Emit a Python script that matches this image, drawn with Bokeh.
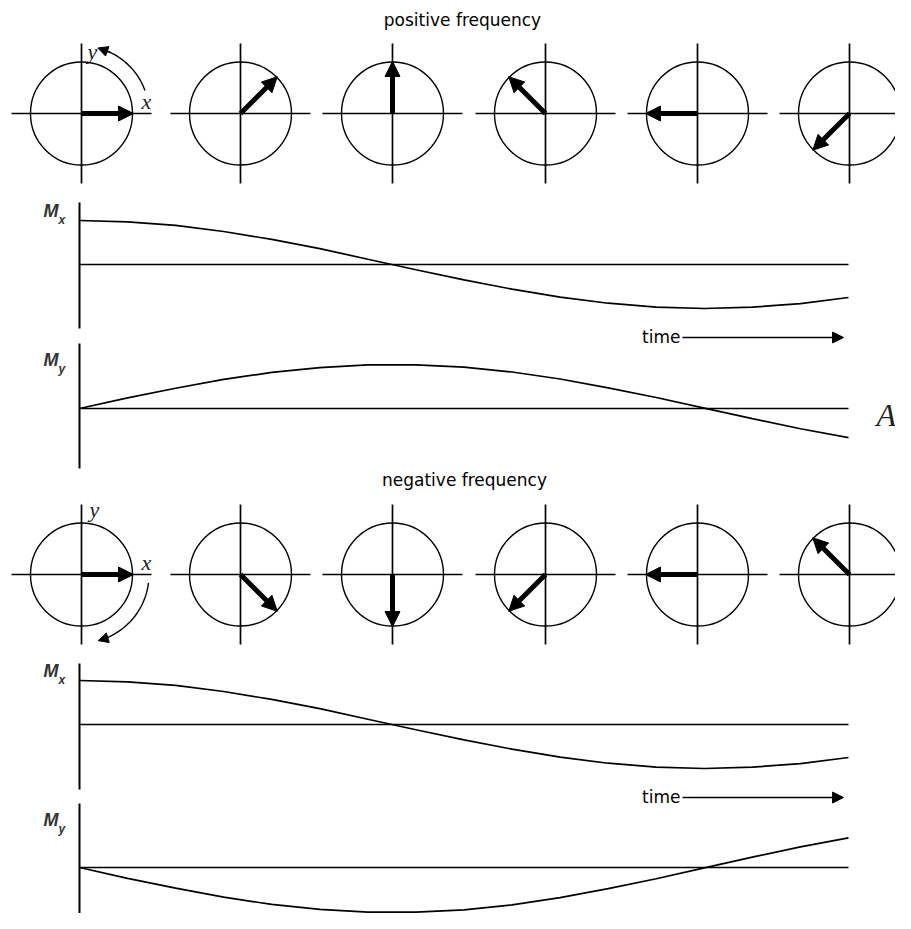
import numpy as np
from bokeh.plotting import figure
from bokeh.models import Range1d, ColumnDataSource, Arrow, NormalHead
from bokeh.core.properties import value
from bokeh.embed import file_html
from bokeh.resources import INLINE

# ---------------- data ----------------
panel_titles = ["positive frequency", "negative frequency"]
pos_angles_deg = [0, 45, 90, 135, 180, 225]
neg_angles_deg = [0, -45, -90, -135, -180, -225]
time_steps = list(range(17))
mx_pos = [1.00, 0.97, 0.89, 0.75, 0.57, 0.36, 0.12, -0.12, -0.35, -0.56,
          -0.74, -0.88, -0.97, -1.00, -0.97, -0.89, -0.75]
my_pos = [0.00, 0.24, 0.46, 0.66, 0.82, 0.93, 0.99, 0.99, 0.94, 0.83,
          0.67, 0.47, 0.25, 0.01, -0.23, -0.46, -0.66]
mx_neg = [1.00, 0.97, 0.89, 0.75, 0.57, 0.36, 0.12, -0.12, -0.35, -0.56,
          -0.74, -0.88, -0.97, -1.00, -0.97, -0.89, -0.75]
my_neg = [0.00, -0.24, -0.46, -0.66, -0.82, -0.93, -0.99, -0.99, -0.94, -0.83,
          -0.67, -0.47, -0.25, -0.01, 0.23, 0.46, 0.66]
axis_symbol = "M"
component_names = ["x", "y"]
time_label = "time"
figure_tag = "A"

# ---------------- layout (pixel coordinates of the picture) ----------------
W, H = 895, 913
LEFT, TOP = 0, 0
RIGHT, BOTTOM = LEFT + W, TOP + H

CIRCLE_CX = [81, 240, 392, 545, 697, 849]
ROW_CY = [113, 574]
TITLE_POS = [(462, 19), (464, 479)]
CIRCLE_R = 51
CROSS_HALF = 70
PHASOR_LEN = 52

AXIS_X = 79
T_END_X = 848
# baseline y, amplitude, axis top, axis bottom, label y
PANELS = {
    "mxp": (264, 44, 202, 328, 210),
    "myp": (408, 44, 343, 468, 359),
    "mxn": (724, 44, 663, 789, 670),
    "myn": (867, 45, 803, 928, 819),
}
TIME_ARROW_Y = [337, 797]

p = figure(width=W, height=H, x_range=Range1d(LEFT, RIGHT), y_range=Range1d(BOTTOM, TOP),
           output_backend="svg", toolbar_location=None,
           x_axis_type=None, y_axis_type=None, min_border=0)
p.outline_line_color = None
p.background_fill_color = "white"
p.border_fill_color = "white"

# time range: t=0 -> AXIS_X, t=16 -> T_END_X
k = (T_END_X - AXIS_X) / (time_steps[-1] - time_steps[0])
ts = time_steps[0] - (AXIS_X - LEFT) / k
p.extra_x_ranges = {"time": Range1d(ts, ts + W / k)}
extra_y = {}
for name, (base, amp, _, _, _) in PANELS.items():
    s = (base - BOTTOM) / amp
    extra_y[name] = Range1d(s, s + H / amp)
p.extra_y_ranges = extra_y

BLACK = "black"

# ---------------- phasor rows ----------------
for row, (cy, angles) in enumerate(zip(ROW_CY, [pos_angles_deg, neg_angles_deg])):
    cxs = CIRCLE_CX
    p.ellipse(x=cxs, y=[cy] * len(cxs), width=2 * CIRCLE_R, height=2 * CIRCLE_R + 1,
              fill_color=None, line_color=BLACK, line_width=1.4)
    p.segment(x0=[c - CROSS_HALF for c in cxs], y0=[cy] * len(cxs),
              x1=[c + CROSS_HALF for c in cxs], y1=[cy] * len(cxs),
              line_color=BLACK, line_width=1.7)
    p.segment(x0=cxs, y0=[cy - CROSS_HALF] * len(cxs),
              x1=cxs, y1=[cy + CROSS_HALF] * len(cxs),
              line_color=BLACK, line_width=1.7)
    a = np.radians(np.array(angles, dtype=float))
    src = ColumnDataSource(dict(
        x0=cxs, y0=[cy] * len(cxs),
        x1=list(np.array(cxs) + PHASOR_LEN * np.cos(a)),
        y1=list(cy - PHASOR_LEN * np.sin(a)),
    ))
    p.add_layout(Arrow(source=src, x_start="x0", y_start="y0", x_end="x1", y_end="y1",
                       line_width=5, line_color=BLACK, line_cap="butt",
                       end=NormalHead(size=15, fill_color=BLACK, line_color=BLACK, line_width=1)))
    tx, ty = TITLE_POS[row]
    p.text(x=[tx], y=[ty], text=[panel_titles[row]], text_font=value("DejaVu Sans"),
           text_font_size="17px", text_align="center", text_baseline="middle",
           text_color=BLACK)

# rotation-direction arcs on the first circle of each row
ARCS = [
    (CIRCLE_CX[0], ROW_CY[0], 67.5, 20, 69, 76),        # counter-clockwise
    (CIRCLE_CX[0] - 1, ROW_CY[1], 68.5, -7, -67, -75),  # clockwise
]
for cx, cy, r, a0, a1, a2 in ARCS:
    th = np.radians(np.linspace(a0, a1, 40))
    p.line(x=cx + r * np.cos(th), y=cy - r * np.sin(th), line_color=BLACK, line_width=1.4)
    tA, tB = np.radians(a1 - 4), np.radians(a2)
    p.add_layout(Arrow(x_start=cx + r * np.cos(tA), y_start=cy - r * np.sin(tA),
                       x_end=cx + r * np.cos(tB), y_end=cy - r * np.sin(tB),
                       line_width=1.4, line_color=BLACK,
                       end=NormalHead(size=10, fill_color=BLACK, line_color=BLACK, line_width=1)))

# x / y labels beside first circles
PHASOR_LABELS = [
    (92, 51, component_names[1]), (146, 101, component_names[0]),
    (94, 509, component_names[1]), (146, 562, component_names[0]),
]
p.text(x=[l[0] for l in PHASOR_LABELS], y=[l[1] for l in PHASOR_LABELS],
       text=[l[2] for l in PHASOR_LABELS], text_font=value("Liberation Serif"),
       text_font_style="italic", text_font_size="22px", text_align="center",
       text_baseline="middle", text_color="#222222")

# ---------------- time plots ----------------
series = {"mxp": mx_pos, "myp": my_pos, "mxn": mx_neg, "myn": my_neg}
subs = {"mxp": component_names[0], "myp": component_names[1],
        "mxn": component_names[0], "myn": component_names[1]}
for name, (base, amp, top, bot, ly) in PANELS.items():
    p.segment(x0=[AXIS_X], y0=[top], x1=[AXIS_X], y1=[bot], line_color=BLACK, line_width=2)
    p.segment(x0=[AXIS_X], y0=[base], x1=[T_END_X], y1=[base], line_color=BLACK, line_width=1.6)
    p.line(x=time_steps, y=series[name], x_range_name="time", y_range_name=name,
           line_color=BLACK, line_width=1.7)
    p.text(x=[43], y=[ly], text=[axis_symbol], text_font=value("Liberation Sans"),
           text_font_style="bold italic", text_font_size="18px",
           text_align="left", text_baseline="middle", text_color="#333333")
    p.text(x=[58], y=[ly + 9], text=[subs[name]], text_font=value("Liberation Sans"),
           text_font_style="bold italic", text_font_size="12px",
           text_align="left", text_baseline="middle", text_color="#333333")

# time arrows
for ya in TIME_ARROW_Y:
    p.add_layout(Arrow(x_start=682, y_start=ya, x_end=843, y_end=ya,
                       line_width=1.4, line_color=BLACK,
                       end=NormalHead(size=11, fill_color=BLACK, line_color=BLACK, line_width=1)))
    p.text(x=[680], y=[ya - 1], text=[time_label], text_font=value("DejaVu Sans"),
           text_font_size="17px", text_align="right", text_baseline="middle",
           text_color=BLACK)

# figure tag
p.text(x=[876], y=[414], text=[figure_tag], text_font=value("Liberation Serif"),
       text_font_style="italic", text_font_size="32px", text_align="left",
       text_baseline="middle", text_color="#222222")

open("out.html", "w").write(file_html(p, INLINE))
